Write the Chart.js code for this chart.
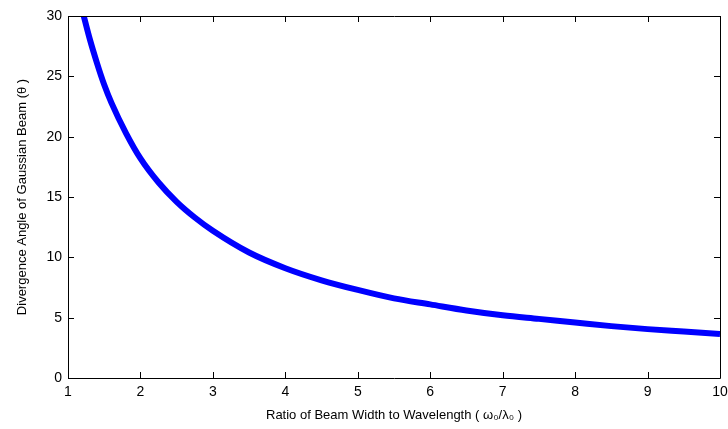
<!DOCTYPE html>
<html>
<head>
<meta charset="utf-8">
<script src="https://cdn.jsdelivr.net/npm/chart.js@4/dist/chart.umd.min.js"></script>
<style>
  html, body { margin: 0; padding: 0; background: #fff; }
  #wrap { width: 728px; height: 429px; }
</style>
</head>
<body>
<div id="wrap"><canvas id="chart" width="728" height="429"></canvas></div>
<script>
// beam width ratio (w0 / lambda0)
const ratio = [1.2, 1.3, 1.4, 1.5, 1.6, 1.8, 2, 2.25, 2.5, 2.75, 3, 3.5, 4, 4.5, 5, 5.5, 6, 6.5, 7, 7.5, 8, 8.5, 9, 9.5, 10];
// divergence angle (degrees)
const angle = [30.4, 28.1, 26.1, 24.3, 22.8, 20.3, 18.2, 16.2, 14.6, 13.3, 12.2, 10.4, 9.1, 8.1, 7.3, 6.6, 6.1, 5.6, 5.2, 4.9, 4.6, 4.3, 4.05, 3.85, 3.65];
const xTicks = [1, 2, 3, 4, 5, 6, 7, 8, 9, 10];
const yTicks = [0, 5, 10, 15, 20, 25, 30];

const fontFam = '"Liberation Sans", Arial, sans-serif';

// matlab style box with inward ticks on all sides
const boxTicks = {
  id: 'boxTicks',
  afterDraw(chart) {
    const { ctx, chartArea: a, scales } = chart;
    const len = 6;
    ctx.save();
    ctx.strokeStyle = '#000';
    ctx.lineWidth = 1;
    ctx.beginPath();
    ctx.rect(a.left + 0.5, a.top + 0.5, a.right - a.left, a.bottom - a.top);
    xTicks.forEach(v => {
      const px = Math.round(scales.x.getPixelForValue(v)) + 0.5;
      ctx.moveTo(px, a.bottom); ctx.lineTo(px, a.bottom - len);
      ctx.moveTo(px, a.top); ctx.lineTo(px, a.top + len);
    });
    yTicks.forEach(v => {
      const py = Math.round(scales.y.getPixelForValue(v)) + 0.5;
      ctx.moveTo(a.left, py); ctx.lineTo(a.left + len, py);
      ctx.moveTo(a.right, py); ctx.lineTo(a.right - len, py);
    });
    ctx.stroke();
    ctx.restore();
  }
};

new Chart(document.getElementById('chart').getContext('2d'), {
  type: 'line',
  data: {
    datasets: [{
      data: ratio.map((x, i) => ({ x: x, y: angle[i] })),
      borderColor: '#0000ff',
      borderWidth: 6,
      pointRadius: 0,
      cubicInterpolationMode: 'monotone',
      clip: 0
    }]
  },
  options: {
    responsive: false,
    animation: false,
    layout: { padding: { top: 16, right: 8, left: 0, bottom: 0 } },
    plugins: { legend: { display: false }, tooltip: { enabled: false } },
    scales: {
      x: {
        type: 'linear',
        min: 1, max: 10,
        afterBuildTicks: s => { s.ticks = xTicks.map(v => ({ value: v })); },
        afterFit: s => { s.height = 51; s.paddingLeft = 0; s.paddingRight = 0; },
        grid: { display: false, drawTicks: false },
        border: { display: false },
        ticks: { color: '#000', padding: 6, maxRotation: 0, font: { family: fontFam, size: 14 } },
        title: {
          display: true,
          text: 'Ratio of Beam Width to Wavelength ( \u03c9\u2080/\u03bb\u2080 )',
          color: '#000',
          padding: { top: 0, bottom: 6 },
          font: { family: fontFam, size: 13 }
        }
      },
      y: {
        type: 'linear',
        min: 0, max: 30,
        afterBuildTicks: s => { s.ticks = yTicks.map(v => ({ value: v })); },
        afterFit: s => { s.width = 68; s.paddingTop = 0; s.paddingBottom = 0; },
        grid: { display: false, drawTicks: false },
        border: { display: false },
        ticks: { color: '#000', padding: 6, font: { family: fontFam, size: 14 } },
        title: {
          display: true,
          text: 'Divergence Angle of Gaussian Beam (\u03b8 )',
          color: '#000',
          padding: { top: 15, bottom: 0 },
          font: { family: fontFam, size: 13 }
        }
      }
    }
  },
  plugins: [boxTicks]
});
</script>
</body>
</html>
